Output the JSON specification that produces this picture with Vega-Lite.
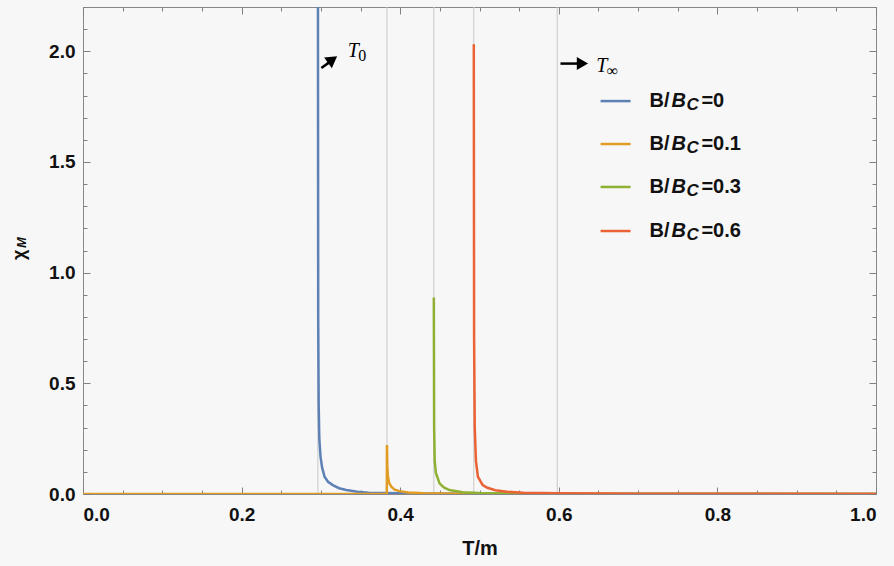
{
  "$schema": "https://vega.github.io/schema/vega-lite/v6.json",
  "width": 793,
  "height": 487,
  "autosize": {"type": "none"},
  "padding": {"left": 83, "top": 7, "right": 18, "bottom": 72},
  "background": "#f7f7f7",
  "config": {
    "view": {"stroke": "#888888", "strokeWidth": 1},
    "axis": {
      "domain": false,
      "grid": false,
      "ticks": true,
      "zindex": 1,
      "tickColor": "#808080",
      "tickWidth": 1,
      "labelFont": "Liberation Sans",
      "labelFontWeight": "bold",
      "labelFontSize": 19,
      "labelColor": "#111111",
      "labelOverlap": false,
      "titleFont": "Liberation Sans",
      "titleFontWeight": "bold",
      "titleFontSize": 20,
      "titleColor": "#111111"
    }
  },
  "datasets": {
    "curves": [
      {"series": "0", "T": 0.2962, "chi": 2.6},
      {"series": "0", "T": 0.2966, "chi": 0.8},
      {"series": "0", "T": 0.2972, "chi": 0.4},
      {"series": "0", "T": 0.298, "chi": 0.25},
      {"series": "0", "T": 0.2995, "chi": 0.17},
      {"series": "0", "T": 0.3015, "chi": 0.12},
      {"series": "0", "T": 0.3046, "chi": 0.078},
      {"series": "0", "T": 0.309, "chi": 0.055},
      {"series": "0", "T": 0.315, "chi": 0.04},
      {"series": "0", "T": 0.323, "chi": 0.026},
      {"series": "0", "T": 0.332, "chi": 0.018},
      {"series": "0", "T": 0.346, "chi": 0.01},
      {"series": "0", "T": 0.36, "chi": 0.006},
      {"series": "0", "T": 0.38, "chi": 0.004},
      {"series": "0", "T": 0.42, "chi": 0.002},
      {"series": "0", "T": 0.5, "chi": 0.001},
      {"series": "0", "T": 0.7, "chi": 0.0005},
      {"series": "0", "T": 1.0, "chi": 0.0003},
      {"series": "0.1", "T": 0.0, "chi": 0},
      {"series": "0.1", "T": 0.3831, "chi": 0},
      {"series": "0.1", "T": 0.3833, "chi": 0.221},
      {"series": "0.1", "T": 0.3838, "chi": 0.12},
      {"series": "0.1", "T": 0.3845, "chi": 0.08},
      {"series": "0.1", "T": 0.386, "chi": 0.05},
      {"series": "0.1", "T": 0.3888, "chi": 0.033},
      {"series": "0.1", "T": 0.393, "chi": 0.02},
      {"series": "0.1", "T": 0.399, "chi": 0.013},
      {"series": "0.1", "T": 0.41, "chi": 0.007},
      {"series": "0.1", "T": 0.43, "chi": 0.003},
      {"series": "0.1", "T": 0.47, "chi": 0.001},
      {"series": "0.1", "T": 0.6, "chi": 0.0003},
      {"series": "0.1", "T": 1.0, "chi": 0},
      {"series": "0.3", "T": 0.4424, "chi": 0.888},
      {"series": "0.3", "T": 0.4428, "chi": 0.3},
      {"series": "0.3", "T": 0.4435, "chi": 0.15},
      {"series": "0.3", "T": 0.445, "chi": 0.095},
      {"series": "0.3", "T": 0.4496, "chi": 0.048},
      {"series": "0.3", "T": 0.455, "chi": 0.03},
      {"series": "0.3", "T": 0.462, "chi": 0.018},
      {"series": "0.3", "T": 0.4786, "chi": 0.008},
      {"series": "0.3", "T": 0.5, "chi": 0.004},
      {"series": "0.3", "T": 0.53, "chi": 0.002},
      {"series": "0.3", "T": 0.6, "chi": 0.0008},
      {"series": "0.3", "T": 1.0, "chi": 0},
      {"series": "0.6", "T": 0.4928, "chi": 2.032},
      {"series": "0.6", "T": 0.4932, "chi": 0.7},
      {"series": "0.6", "T": 0.494, "chi": 0.3},
      {"series": "0.6", "T": 0.4955, "chi": 0.15},
      {"series": "0.6", "T": 0.498, "chi": 0.078},
      {"series": "0.6", "T": 0.504, "chi": 0.04},
      {"series": "0.6", "T": 0.51, "chi": 0.028},
      {"series": "0.6", "T": 0.52, "chi": 0.017},
      {"series": "0.6", "T": 0.535, "chi": 0.01},
      {"series": "0.6", "T": 0.555, "chi": 0.006},
      {"series": "0.6", "T": 0.6, "chi": 0.003},
      {"series": "0.6", "T": 0.7, "chi": 0.001},
      {"series": "0.6", "T": 1.0, "chi": 0.0002}
    ],
    "critical": [
      {"name": "T0", "T": 0.2962},
      {"name": "B0.1", "T": 0.3833},
      {"name": "B0.3", "T": 0.4424},
      {"name": "B0.6", "T": 0.4928},
      {"name": "Tinf", "T": 0.598}
    ],
    "arrows": [
      {"name": "T0", "x": 0.3006, "y": 1.924, "x2": 0.3109, "y2": 1.951, "hx": 0.3147, "hy": 1.9625},
      {"name": "Tinf", "x": 0.6021, "y": 1.9444, "x2": 0.6235, "y2": 1.9444, "hx": 0.6298, "hy": 1.9444}
    ],
    "marks": [
      {"name": "T0", "x": 0.334, "y": 1.9724, "sub": "0"},
      {"name": "Tinf", "x": 0.6471, "y": 1.9074, "sub": "∞"}
    ],
    "legend": [
      {"series": "0", "row": 1.775},
      {"series": "0.1", "row": 1.581},
      {"series": "0.3", "row": 1.387},
      {"series": "0.6", "row": 1.188}
    ]
  },
  "resolve": {"axis": {"x": "independent", "y": "independent"}},
  "layer": [
    {
      "data": {"name": "critical"},
      "mark": {"type": "rule", "color": "#c8c8c8", "strokeWidth": 1},
      "encoding": {
        "x": {
          "field": "T", "type": "quantitative",
          "scale": {"domain": [0, 1], "nice": false, "zero": false},
          "axis": {
            "orient": "top", "labels": false, "title": null,
            "values": [0,0.05,0.1,0.15,0.2,0.25,0.3,0.35,0.4,0.45,0.5,0.55,0.6,0.65,0.7,0.75,0.8,0.85,0.9,0.95,1],
            "tickSize": {"condition": {"test": "abs(datum.value*5-round(datum.value*5))<1e-6", "value": -7}, "value": -4}
          }
        }
      }
    },
    {
      "data": {"name": "curves"},
      "mark": {"type": "line", "strokeWidth": 2.5, "clip": true},
      "encoding": {
        "x": {
          "field": "T", "type": "quantitative",
          "scale": {"domain": [0, 1], "nice": false, "zero": false},
          "axis": {
            "orient": "bottom", "title": "T/m", "titlePadding": 11,
            "values": [0,0.05,0.1,0.15,0.2,0.25,0.3,0.35,0.4,0.45,0.5,0.55,0.6,0.65,0.7,0.75,0.8,0.85,0.9,0.95,1],
            "labelExpr": "abs(datum.value*5-round(datum.value*5))<1e-6 ? format(datum.value,'.1f') : ''",
            "labelPadding": 18,
            "tickSize": {"condition": {"test": "abs(datum.value*5-round(datum.value*5))<1e-6", "value": -7}, "value": -4}
          }
        },
        "y": {
          "field": "chi", "type": "quantitative",
          "scale": {"domain": [0, 2.2], "nice": false, "zero": true},
          "axis": {
            "orient": "left", "title": null,
            "values": [0,0.1,0.2,0.3,0.4,0.5,0.6,0.7,0.8,0.9,1,1.1,1.2,1.3,1.4,1.5,1.6,1.7,1.8,1.9,2,2.1,2.2],
            "labelExpr": "abs(datum.value*2-round(datum.value*2))<1e-6 ? format(datum.value,'.1f') : ''",
            "labelPadding": 15,
            "tickSize": {"condition": {"test": "abs(datum.value*2-round(datum.value*2))<1e-6", "value": -7}, "value": -4}
          }
        },
        "color": {
          "field": "series", "type": "nominal", "legend": null,
          "scale": {"domain": ["0", "0.1", "0.3", "0.6"], "range": ["#5E81B5", "#E19C24", "#8FB032", "#EB6235"]}
        }
      }
    },
    {
      "data": {"name": "arrows"},
      "mark": {"type": "rule", "color": "black", "strokeWidth": 2.5},
      "encoding": {
        "x": {"field": "x", "type": "quantitative", "axis": null},
        "y": {
          "field": "y", "type": "quantitative",
          "axis": {
            "orient": "right", "labels": false, "title": null,
            "values": [0,0.1,0.2,0.3,0.4,0.5,0.6,0.7,0.8,0.9,1,1.1,1.2,1.3,1.4,1.5,1.6,1.7,1.8,1.9,2,2.1,2.2],
            "tickSize": {"condition": {"test": "abs(datum.value*2-round(datum.value*2))<1e-6", "value": -7}, "value": -4}
          }
        },
        "x2": {"field": "x2"},
        "y2": {"field": "y2"}
      }
    },
    {
      "data": {"name": "arrows"},
      "transform": [{"filter": "datum.name == 'T0'"}],
      "mark": {"type": "point", "shape": "triangle-right", "filled": true, "color": "black", "opacity": 1, "size": 170, "angle": -36},
      "encoding": {
        "x": {"field": "hx", "type": "quantitative", "axis": null},
        "y": {"field": "hy", "type": "quantitative", "axis": null}
      }
    },
    {
      "data": {"name": "arrows"},
      "transform": [{"filter": "datum.name == 'Tinf'"}],
      "mark": {"type": "point", "shape": "triangle-right", "filled": true, "color": "black", "opacity": 1, "size": 170, "angle": 0},
      "encoding": {
        "x": {"field": "hx", "type": "quantitative", "axis": null},
        "y": {"field": "hy", "type": "quantitative", "axis": null}
      }
    },
    {
      "data": {"name": "marks"},
      "mark": {"type": "text", "text": "T", "font": "Liberation Serif", "fontStyle": "italic", "fontSize": 20, "align": "left", "baseline": "alphabetic", "color": "black"},
      "encoding": {
        "x": {"field": "x", "type": "quantitative", "axis": null},
        "y": {"field": "y", "type": "quantitative", "axis": null}
      }
    },
    {
      "data": {"name": "marks"},
      "mark": {"type": "text", "font": "Liberation Serif", "fontSize": 16, "align": "left", "baseline": "alphabetic", "color": "black", "dx": 10.5, "dy": 4},
      "encoding": {
        "x": {"field": "x", "type": "quantitative", "axis": null},
        "y": {"field": "y", "type": "quantitative", "axis": null},
        "text": {"field": "sub"}
      }
    },
    {
      "data": {"name": "legend"},
      "mark": {"type": "rule", "strokeWidth": 2.5},
      "encoding": {
        "x": {"datum": 0.6527, "type": "quantitative", "axis": null},
        "x2": {"datum": 0.6905},
        "y": {"field": "row", "type": "quantitative", "axis": null},
        "color": {"field": "series", "type": "nominal", "legend": null}
      }
    },
    {
      "data": {"name": "legend"},
      "mark": {"type": "text", "text": "B/", "font": "Liberation Sans", "fontWeight": "bold", "fontSize": 20, "align": "left", "baseline": "middle", "color": "#111111"},
      "encoding": {
        "x": {"datum": 0.7143, "type": "quantitative", "axis": null},
        "y": {"field": "row", "type": "quantitative", "axis": null}
      }
    },
    {
      "data": {"name": "legend"},
      "mark": {"type": "text", "text": "B", "font": "Liberation Sans", "fontWeight": "bold", "fontStyle": "italic", "fontSize": 20, "align": "left", "baseline": "middle", "color": "#111111", "dx": 22},
      "encoding": {
        "x": {"datum": 0.7143, "type": "quantitative", "axis": null},
        "y": {"field": "row", "type": "quantitative", "axis": null}
      }
    },
    {
      "data": {"name": "legend"},
      "mark": {"type": "text", "text": "C", "font": "Liberation Sans", "fontWeight": "bold", "fontStyle": "italic", "fontSize": 17, "align": "left", "baseline": "middle", "color": "#111111", "dx": 37, "dy": 4},
      "encoding": {
        "x": {"datum": 0.7143, "type": "quantitative", "axis": null},
        "y": {"field": "row", "type": "quantitative", "axis": null}
      }
    },
    {
      "data": {"name": "legend"},
      "mark": {"type": "text", "font": "Liberation Sans", "fontWeight": "bold", "fontSize": 20, "align": "left", "baseline": "middle", "color": "#111111", "dx": 52},
      "encoding": {
        "x": {"datum": 0.7143, "type": "quantitative", "axis": null},
        "y": {"field": "row", "type": "quantitative", "axis": null},
        "text": {"field": "series"}
      },
      "transform": [{"calculate": "'=' + datum.series", "as": "series"}]
    },
    {
      "data": {"values": [{"sym": "χ"}]},
      "mark": {"type": "text", "text": "χ", "font": "Liberation Sans", "fontWeight": "bold", "fontSize": 18, "align": "center", "baseline": "middle", "angle": 270, "color": "#111111"},
      "encoding": {
        "x": {"datum": -0.08, "type": "quantitative", "axis": null},
        "y": {"datum": 1.08, "type": "quantitative", "axis": null}
      }
    },
    {
      "data": {"values": [{"sym": "M"}]},
      "mark": {"type": "text", "text": "M", "font": "Liberation Sans", "fontWeight": "bold", "fontStyle": "italic", "fontSize": 13, "align": "center", "baseline": "middle", "angle": 270, "color": "#111111"},
      "encoding": {
        "x": {"datum": -0.0765, "type": "quantitative", "axis": null},
        "y": {"datum": 1.136, "type": "quantitative", "axis": null}
      }
    }
  ]
}
